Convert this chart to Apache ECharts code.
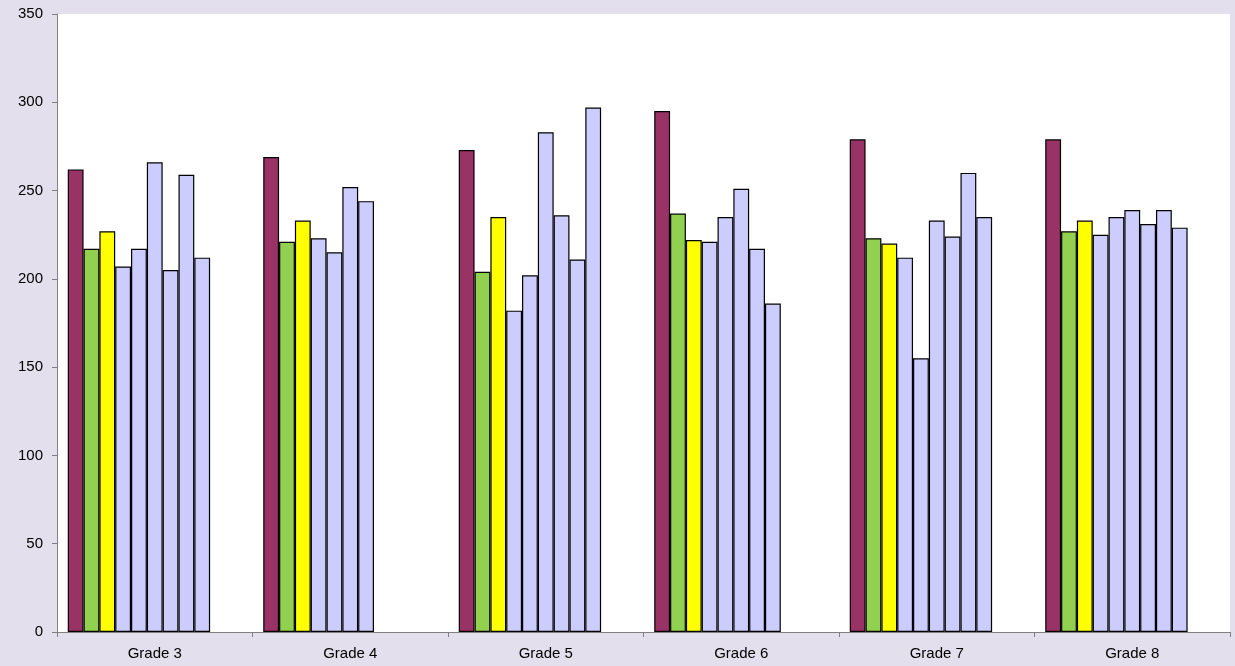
<!DOCTYPE html>
<html style="height: 100%">
<head>
    <meta charset="utf-8">
    <script src="https://cdn.jsdelivr.net/npm/echarts@6/dist/echarts.min.js"></script>
</head>
<body style="height: 100%; margin: 0; background: #e4dfec">
    <div id="main" style="width:1235px;height:666px;"></div>
    <script type="text/javascript">
        var grades = ['Grade 3', 'Grade 4', 'Grade 5', 'Grade 6', 'Grade 7', 'Grade 8'];
        // one array per bar slot within a grade ('-' = no bar)
        var s1 = [262, 269, 273, 295, 279, 279];
        var s2 = [217, 221, 204, 237, 223, 227];
        var s3 = [227, 233, 235, 222, 220, 233];
        var s4 = [207, 223, 182, 221, 212, 225];
        var s5 = [217, 215, 202, 235, 155, 235];
        var s6 = [266, 252, 283, 251, 233, 239];
        var s7 = [205, 244, 236, 217, 224, 231];
        var s8 = [259, '-', 211, 186, 260, 239];
        var s9 = [212, '-', 297, '-', 235, 229];
        var s10 = ['-', '-', '-', '-', '-', '-'];
        var s11 = ['-', '-', '-', '-', '-', '-'];

        var allSeries = [s1, s2, s3, s4, s5, s6, s7, s8, s9, s10, s11];
        var colors = ['#993366', '#92d050', '#ffff00'];

        var myChart = echarts.init(document.getElementById('main'));
        var option = {
            backgroundColor: '#e4dfec',
            animation: false,
            grid: { left: 57, right: 5, top: 14, bottom: 34, show: true, backgroundColor: '#fff', borderWidth: 0 },
            xAxis: {
                type: 'category',
                data: grades,
                axisLine: { lineStyle: { color: '#808080' } },
                axisTick: { show: true, lineStyle: { color: '#808080' } },
                axisLabel: { color: '#000', fontSize: 15, fontFamily: 'Arial', margin: 14 }
            },
            yAxis: {
                type: 'value',
                min: 0, max: 350, interval: 50,
                splitLine: { show: false },
                axisLine: { show: true, lineStyle: { color: '#808080' } },
                axisTick: { show: true, lineStyle: { color: '#808080' } },
                axisLabel: { color: '#000', fontSize: 15, fontFamily: 'Arial', margin: 14 }
            },
            series: allSeries.map(function (d, i) {
                return {
                    type: 'bar',
                    data: d,
                    barGap: '0%',
                    barCategoryGap: '11%',
                    itemStyle: { color: colors[i] || '#ccccff', borderColor: '#000', borderWidth: 1.2 }
                };
            })
        };
        myChart.setOption(option, true);
    </script>
</body>
</html>
